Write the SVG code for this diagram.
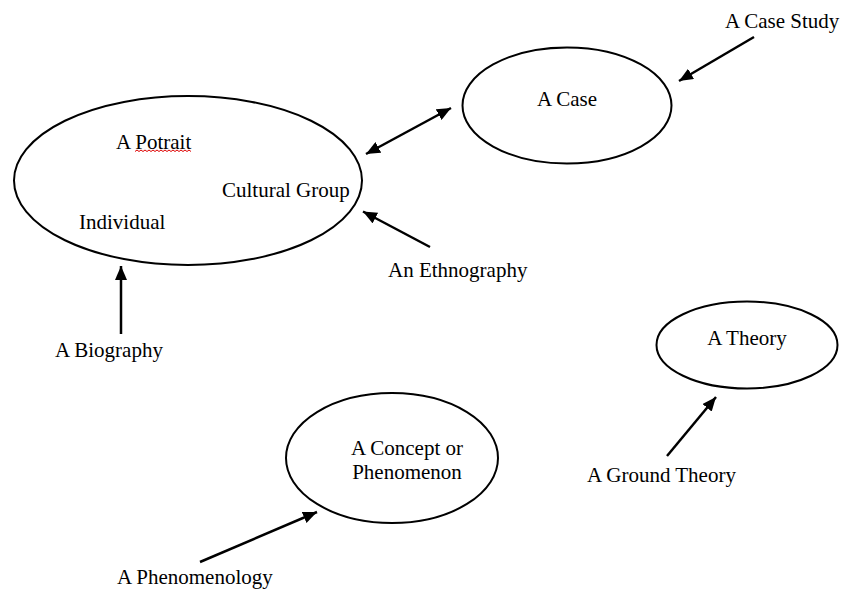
<svg xmlns="http://www.w3.org/2000/svg" width="844" height="593" viewBox="0 0 844 593">
<style>
.n{fill:#fff;stroke:#000;stroke-width:2}
.t{font-family:"Liberation Serif","Times New Roman",serif;font-size:21px;fill:#000}
.a{stroke:#000;stroke-width:2.5;fill:none}
</style>
<defs>
<marker id="h" markerUnits="userSpaceOnUse" markerWidth="16" markerHeight="12" refX="14" refY="6" orient="auto-start-reverse">
<path d="M0,0 L14,6 L0,12 z" fill="#000"/>
</marker>
</defs>
<rect width="844" height="593" fill="#fff"/>
<g id="node-group">
<ellipse class="n" cx="188" cy="180.5" rx="174" ry="84.5"/>
<text class="t" x="116" y="149">A Potrait</text>
<path d="M135,151.5 l2,-1.5 l2,1.5 l2,-1.5 l2,1.5 l2,-1.5 l2,1.5 l2,-1.5 l2,1.5 l2,-1.5 l2,1.5 l2,-1.5 l2,1.5 l2,-1.5 l2,1.5 l2,-1.5 l2,1.5 l2,-1.5 l2,1.5 l2,-1.5 l2,1.5 l2,-1.5 l2,1.5 l2,-1.5 l2,1.5 l2,-1.5 l2,1.5 l2,-1.5 l2,1.5" fill="none" stroke="#d00" stroke-width="1"/>
<text class="t" x="222" y="197">Cultural Group</text>
<text class="t" x="79" y="229">Individual</text>
</g>
<g id="node-concept">
<ellipse class="n" cx="392" cy="458" rx="106" ry="65"/>
<text class="t" x="407" y="455" text-anchor="middle">A Concept or</text>
<text class="t" x="407" y="479" text-anchor="middle">Phenomenon</text>
</g>
<g id="node-case">
<ellipse class="n" cx="567" cy="105.5" rx="104.5" ry="58"/>
<text class="t" x="567" y="106" text-anchor="middle">A Case</text>
</g>
<g id="node-theory">
<ellipse class="n" cx="747" cy="345" rx="90.5" ry="43.5"/>
<text class="t" x="747" y="345" text-anchor="middle">A Theory</text>
</g>
<g id="labels">
<text class="t" x="725" y="28">A Case Study</text>
<text class="t" x="388" y="277">An Ethnography</text>
<text class="t" x="55" y="357">A Biography</text>
<text class="t" x="117" y="584">A Phenomenology</text>
<text class="t" x="587" y="482">A Ground Theory</text>
</g>
<g id="connectors">
<path class="a" d="M754,37 L679,81" marker-end="url(#h)"/>
<path class="a" d="M366,154 L451,108" marker-start="url(#h)" marker-end="url(#h)"/>
<path class="a" d="M430,247 L363,211.5" marker-end="url(#h)"/>
<path class="a" d="M121,334 L121,266" marker-end="url(#h)"/>
<path class="a" d="M200,562 L317,512" marker-end="url(#h)"/>
<path class="a" d="M667,456 L716,397" marker-end="url(#h)"/>
</g>
</svg>
